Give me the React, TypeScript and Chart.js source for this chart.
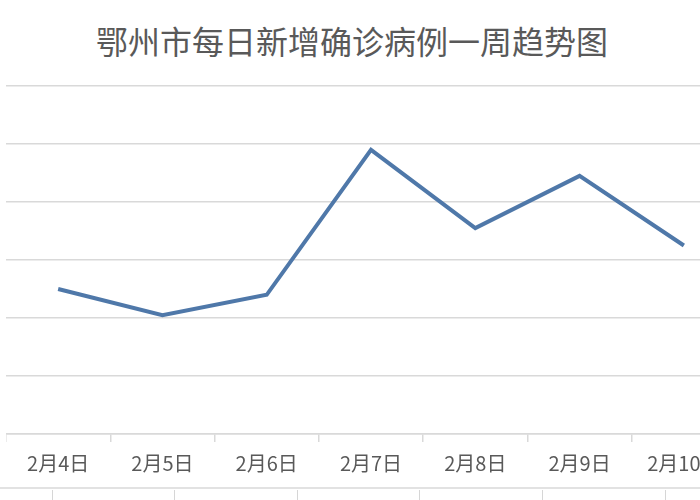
import React, { useEffect, useRef } from "react";
import { Chart, registerables } from "chart.js";

Chart.register(...registerables);

const titleText = "鄂州市每日新增确诊病例一周趋势图";
const categories = ["2月4日", "2月5日", "2月6日", "2月7日", "2月8日", "2月9日", "2月10日"];
const newCases = [50, 41, 48, 98, 71, 89, 65];
const yMin = 0;
const yMax = 120;
const yStep = 20;

const FONT = "'Noto Sans CJK SC', 'Microsoft YaHei', sans-serif";

export default function App() {
  const canvasRef = useRef<HTMLCanvasElement | null>(null);

  useEffect(() => {
    const canvas = canvasRef.current;
    if (!canvas) return;
    const chart = new Chart(canvas, {
      type: "line",
      data: {
        labels: categories,
        datasets: [
          {
            label: "新增确诊",
            data: newCases,
            borderColor: "#4f78a9",
            borderWidth: 4,
            pointRadius: 0,
            tension: 0,
            fill: false,
            borderJoinStyle: "miter",
          },
        ],
      },
      options: {
        animation: false,
        responsive: false,
        maintainAspectRatio: false,
        layout: { padding: { top: 86, bottom: 16, left: 0, right: 0 } },
        plugins: {
          legend: { display: false },
          title: { display: false },
          tooltip: { enabled: false },
        },
        scales: {
          x: {
            type: "category",
            offset: true,
            grid: {
              display: true,
              offset: true,
              drawOnChartArea: false,
              drawTicks: true,
              tickLength: 8,
              color: "#d9d9d9",
              lineWidth: 1.5,
            },
            border: { display: true, color: "#d9d9d9", width: 1.5 },
            ticks: {
              color: "#595959",
              font: { family: FONT, size: 20 },
              padding: 9,
              maxRotation: 0,
              autoSkip: false,
            },
          },
          y: {
            min: yMin,
            max: yMax,
            ticks: { display: false, stepSize: yStep },
            grid: { color: "#d9d9d9", lineWidth: 1.5, drawTicks: false },
            border: { display: false },
          },
        },
      },
    });
    return () => chart.destroy();
  }, []);

  const bottomDividers = [52, 174, 297, 419, 542, 665];

  return (
    <div
      style={{
        position: "fixed",
        left: 0,
        top: 0,
        width: 700,
        height: 500,
        overflow: "hidden",
        background: "#ffffff",
      }}
    >
      <div
        style={{
          position: "absolute",
          left: 2,
          top: 23,
          width: 700,
          height: 34,
          lineHeight: "34px",
          textAlign: "center",
          fontFamily: FONT,
          fontSize: 32,
          color: "#595959",
        }}
      >
        {titleText}
      </div>
      <canvas
        ref={canvasRef}
        width={730}
        height={500}
        style={{ position: "absolute", left: 6, top: 0, width: 730, height: 500 }}
      />
      <div
        style={{
          position: "absolute",
          left: 0,
          top: 487,
          width: 700,
          height: 0,
          borderTop: "2px solid #e2e2e2",
        }}
      />
      {bottomDividers.map((x) => (
        <div
          key={x}
          style={{
            position: "absolute",
            left: x,
            top: 490,
            width: 0,
            height: 10,
            borderLeft: "1.5px solid #d6d6d6",
          }}
        />
      ))}
    </div>
  );
}
